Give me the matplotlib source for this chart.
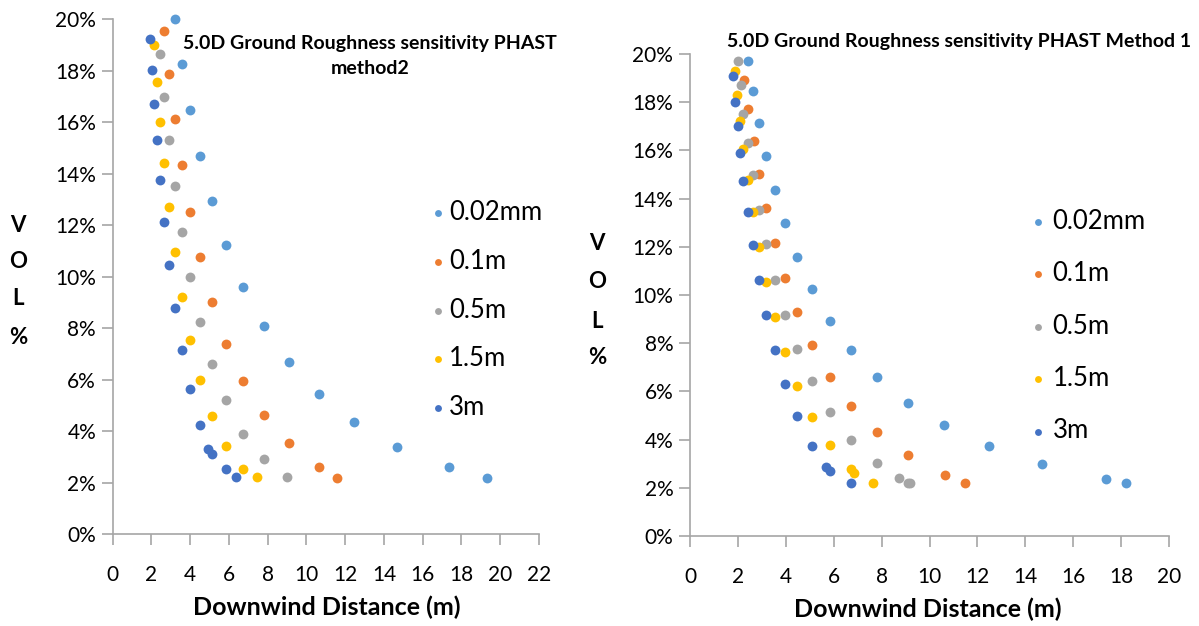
import matplotlib
matplotlib.use("Agg")
import matplotlib.pyplot as plt
from matplotlib.ticker import FuncFormatter, MultipleLocator

plt.rcParams['font.family'] = ['Lato', 'DejaVu Sans']

labels = ["0.02mm", "0.1m", "0.5m", "1.5m", "3m"]
colors = ["#5B9BD5", "#ED7D31", "#A5A5A5", "#FFC000", "#4472C4"]

# Left chart: method 2 (x = downwind distance m, y = VOL %)
m2_x_002 = [3.20, 3.56, 3.97, 4.49, 5.12, 5.85, 6.74, 7.81, 9.08, 10.63, 12.47, 14.69, 17.35, 19.33]
m2_y_002 = [20.0, 18.26, 16.47, 14.70, 12.94, 11.24, 9.61, 8.08, 6.69, 5.44, 4.34, 3.39, 2.61, 2.19]
m2_x_01 = [2.65, 2.91, 3.20, 3.56, 3.97, 4.49, 5.11, 5.85, 6.74, 7.81, 9.08, 10.63, 11.57]
m2_y_01 = [19.55, 17.86, 16.11, 14.32, 12.51, 10.75, 9.01, 7.38, 5.93, 4.62, 3.52, 2.60, 2.19]
m2_x_05 = [2.44, 2.65, 2.89, 3.20, 3.56, 3.97, 4.49, 5.11, 5.85, 6.74, 7.81, 9.01]
m2_y_05 = [18.64, 16.99, 15.30, 13.53, 11.74, 9.97, 8.25, 6.60, 5.19, 3.90, 2.90, 2.20]
m2_x_15 = [2.12, 2.29, 2.43, 2.65, 2.89, 3.20, 3.56, 3.97, 4.49, 5.11, 5.85, 6.74, 7.43]
m2_y_15 = [18.99, 17.57, 16.02, 14.40, 12.69, 10.96, 9.22, 7.54, 5.98, 4.57, 3.41, 2.51, 2.20]
m2_x_3 = [1.91, 2.01, 2.12, 2.29, 2.44, 2.65, 2.89, 3.20, 3.56, 3.97, 4.49, 4.93, 5.12, 5.85, 6.38]
m2_y_3 = [19.22, 18.03, 16.72, 15.30, 13.75, 12.13, 10.46, 8.79, 7.15, 5.62, 4.23, 3.31, 3.11, 2.53, 2.21]

# Right chart: method 1
m1_x_002 = [2.42, 2.63, 2.88, 3.17, 3.55, 3.95, 4.46, 5.11, 5.83, 6.72, 7.80, 9.09, 10.62, 12.48, 14.70, 17.36, 18.22]
m1_y_002 = [19.71, 18.46, 17.14, 15.78, 14.37, 12.97, 11.59, 10.24, 8.93, 7.72, 6.59, 5.52, 4.59, 3.73, 2.99, 2.37, 2.19]
m1_x_01 = [2.27, 2.42, 2.66, 2.89, 3.19, 3.54, 3.97, 4.47, 5.11, 5.83, 6.72, 7.80, 9.09, 10.63, 11.50]
m1_y_01 = [18.92, 17.71, 16.39, 15.01, 13.60, 12.17, 10.71, 9.29, 7.93, 6.61, 5.41, 4.32, 3.36, 2.54, 2.19]
m1_x_05 = [1.99, 2.12, 2.23, 2.42, 2.63, 2.88, 3.17, 3.55, 3.97, 4.47, 5.11, 5.83, 6.72, 7.80, 8.71, 9.09, 9.19]
m1_y_05 = [19.72, 18.70, 17.51, 16.29, 14.97, 13.54, 12.10, 10.63, 9.18, 7.77, 6.42, 5.13, 4.00, 3.02, 2.39, 2.21, 2.19]
m1_x_15 = [1.87, 1.97, 2.10, 2.23, 2.42, 2.64, 2.89, 3.19, 3.55, 3.97, 4.47, 5.11, 5.83, 6.73, 6.85, 7.65]
m1_y_15 = [19.31, 18.30, 17.23, 16.06, 14.77, 13.43, 12.00, 10.54, 9.07, 7.62, 6.22, 4.94, 3.76, 2.77, 2.60, 2.20]
m1_x_3 = [1.78, 1.88, 1.99, 2.10, 2.23, 2.42, 2.63, 2.88, 3.17, 3.55, 3.97, 4.47, 5.11, 5.67, 5.83, 6.72]
m1_y_3 = [19.09, 18.01, 17.01, 15.90, 14.72, 13.44, 12.09, 10.62, 9.17, 7.73, 6.29, 4.97, 3.73, 2.88, 2.71, 2.20]

left_series = [(m2_x_002, m2_y_002), (m2_x_01, m2_y_01), (m2_x_05, m2_y_05),
               (m2_x_15, m2_y_15), (m2_x_3, m2_y_3)]
right_series = [(m1_x_002, m1_y_002), (m1_x_01, m1_y_01), (m1_x_05, m1_y_05),
                (m1_x_15, m1_y_15), (m1_x_3, m1_y_3)]

W, H = 1199, 626
fig = plt.figure(figsize=(W / 100, H / 100), dpi=100)


def px_rect(x0, x1, ytop, ybot):
    return [x0 / W, 1 - ybot / H, (x1 - x0) / W, (ybot - ytop) / H]


axL = fig.add_axes(px_rect(112.7, 539, 19.3, 534))
axR = fig.add_axes(px_rect(690, 1169, 54, 536))

spine_col = "#A6A6A6"
for ax, series, xmax in [(axL, left_series, 22), (axR, right_series, 20)]:
    for (xs, ys), lab, col in zip(series, labels, colors):
        ax.scatter(xs, ys, s=50, color=col, label=lab, linewidths=0, zorder=3, clip_on=False)
    ax.set_xlim(0, xmax)
    ax.set_ylim(0, 20)
    ax.xaxis.set_major_locator(MultipleLocator(2))
    ax.yaxis.set_major_locator(MultipleLocator(2))
    ax.yaxis.set_major_formatter(FuncFormatter(lambda v, p: f"{int(round(v))}%"))
    for s in ["top", "right"]:
        ax.spines[s].set_visible(False)
    for s in ["left", "bottom"]:
        ax.spines[s].set_color(spine_col)
        ax.spines[s].set_linewidth(1.2)
    ax.tick_params(axis="both", direction="out", length=8, width=1.2, color=spine_col,
                   labelsize=15, labelcolor="#000000")
    ax.tick_params(axis="y", pad=4)
    ax.tick_params(axis="x", pad=14)
    ax.set_facecolor("white")

axL.legend(loc="center left", bbox_to_anchor=(430 / W, 1 - 310 / H), bbox_transform=fig.transFigure,
           frameon=False, fontsize=18.5, markerscale=0.7, handletextpad=0.13,
           labelspacing=0.92, borderaxespad=0, borderpad=0, handlelength=0.6)
axR.legend(loc="center left", bbox_to_anchor=(1030 / W, 1 - 326 / H), bbox_transform=fig.transFigure,
           frameon=False, fontsize=18.5, markerscale=0.7, handletextpad=0.28,
           labelspacing=1.07, borderaxespad=0, borderpad=0, handlelength=0.6)

fig.text(370 / W, 1 - 43 / H, "5.0D Ground Roughness sensitivity PHAST", ha="center", va="center",
         fontsize=14, fontweight="bold")
fig.text(370 / W, 1 - 68 / H, "method2", ha="center", va="center",
         fontsize=14, fontweight="bold")
fig.text(959 / W, 1 - 41 / H, "5.0D Ground Roughness sensitivity PHAST Method 1", ha="center", va="center",
         fontsize=14, fontweight="bold")

fig.text(327 / W, 1 - 607 / H, "Downwind Distance (m)", ha="center", va="center", fontsize=18, fontweight="bold")
fig.text(928 / W, 1 - 609 / H, "Downwind Distance (m)", ha="center", va="center", fontsize=18, fontweight="bold")

for x, ys in [(18, [226, 262, 298, 337]), (597, [243, 282, 321, 357])]:
    for ch, y in zip("VOL%", ys):
        fig.text(x / W, 1 - y / H, ch, ha="center", va="center", fontsize=16, fontweight="bold")

fig.savefig("out.png", dpi=100, facecolor="white")
